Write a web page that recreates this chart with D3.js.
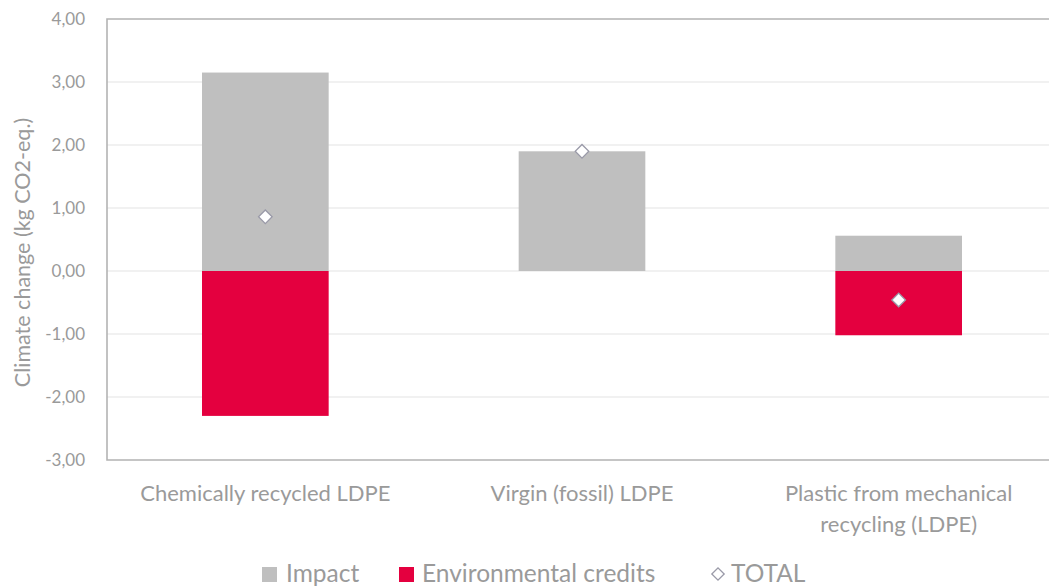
<!DOCTYPE html>
<html><head><meta charset="utf-8">
<script src="https://cdn.jsdelivr.net/npm/d3@7"></script>
<style>body{margin:0;background:#fff}svg{display:block}text{font-family:Lato,"Open Sans",sans-serif;fill:#9a9a9a}</style>
</head><body><svg id="c" width="1049" height="588"></svg>
<script>
const categories = ["Chemically recycled LDPE", "Virgin (fossil) LDPE", "Plastic from mechanical recycling (LDPE)"];
const categoryLines = [["Chemically recycled LDPE"], ["Virgin (fossil) LDPE"], ["Plastic from mechanical", "recycling (LDPE)"]];
const impact = [3.15, 1.90, 0.56];
const credits = [-2.30, 0, -1.02];
const total = [0.86, 1.90, -0.46];
const yTicks = [-3, -2, -1, 0, 1, 2, 3, 4];
const legendLabels = ["Impact", "Environmental credits", "TOTAL"];

(function () {
const svg = d3.select("#c");
const pL = 107, pR = 1057, pT = 19, pB = 460;
const y = d3.scaleLinear().domain([-3, 4]).range([pB, pT]);
const x = d3.scaleBand().domain(categories).range([pL, pR]).paddingInner(0.6).paddingOuter(0.3);

// grid
svg.append("g").selectAll("line").data(yTicks.filter(t => t > -3 && t < 4)).join("line")
  .attr("x1", pL).attr("x2", pR).attr("y1", d => y(d)).attr("y2", d => y(d))
  .attr("stroke", "#e4e4e4").attr("stroke-width", 1.2);
// frame
svg.append("path").attr("d", `M${pR},${pT}H${pL}V${pB}H${pR}`)
  .attr("fill", "none").attr("stroke", "#b3b3b3").attr("stroke-width", 1.6);

// y axis labels
const fmt = d => d3.format(".2f")(d).replace(".", ",").replace("−", "-");
const ya = svg.append("g").attr("transform", `translate(${pL},0)`)
  .call(d3.axisLeft(y).tickValues(yTicks).tickSize(0).tickPadding(22).tickFormat(fmt));
ya.select(".domain").remove();
ya.selectAll("text").style("font-size", "17px").style("fill", "#9a9a9a").style("font-family", "Lato,'Open Sans',sans-serif");

svg.append("text").attr("transform", `translate(30,${(pT + pB) / 2 + 13}) rotate(-90)`)
  .attr("text-anchor", "middle").style("font-size", "21.5px").text("Climate change (kg CO2-eq.)");

// bars
const g = svg.append("g");
g.selectAll("rect.imp").data(categories).join("rect").attr("class", "imp")
  .attr("x", d => x(d)).attr("width", x.bandwidth())
  .attr("y", (d, i) => y(impact[i])).attr("height", (d, i) => y(0) - y(impact[i]))
  .attr("fill", "#bfbfbf");
g.selectAll("rect.cr").data(categories).join("rect").attr("class", "cr")
  .attr("x", d => x(d)).attr("width", x.bandwidth())
  .attr("y", y(0)).attr("height", (d, i) => y(credits[i]) - y(0))
  .attr("fill", "#e4003f");

// total diamonds
const diamond = d3.symbol().type(d3.symbolSquare).size(92);
g.selectAll("path.tot").data(categories).join("path").attr("class", "tot")
  .attr("d", diamond)
  .attr("transform", (d, i) => `translate(${x(d) + x.bandwidth() / 2},${y(total[i])}) rotate(45)`)
  .attr("fill", "#fff").attr("stroke", "#9a9aa8").attr("stroke-width", 1.3);

// category labels
categories.forEach((c, i) => {
  const t = svg.append("text").attr("text-anchor", "middle").style("font-size", "22px");
  categoryLines[i].forEach((ln, j) => {
    t.append("tspan").attr("x", x(c) + x.bandwidth() / 2).attr("y", 501 + j * 31).text(ln);
  });
});

// legend
const lb = 582;
const lg = svg.append("g");
lg.append("rect").attr("x", 262).attr("y", lb - 15).attr("width", 15).attr("height", 15).attr("fill", "#bfbfbf");
lg.append("text").attr("x", 286).attr("y", lb).style("font-size", "24.5px").text(legendLabels[0]);
lg.append("rect").attr("x", 399).attr("y", lb - 15).attr("width", 15).attr("height", 15).attr("fill", "#e4003f");
lg.append("text").attr("x", 422).attr("y", lb).style("font-size", "24.5px").text(legendLabels[1]);
lg.append("path").attr("d", d3.symbol().type(d3.symbolSquare).size(76))
  .attr("transform", `translate(718,${lb - 8}) rotate(45)`).attr("fill", "#fff").attr("stroke", "#9a9aa8").attr("stroke-width", 1.3);
lg.append("text").attr("x", 731).attr("y", lb).style("font-size", "24.5px").text(legendLabels[2]);
})();
</script></body></html>
